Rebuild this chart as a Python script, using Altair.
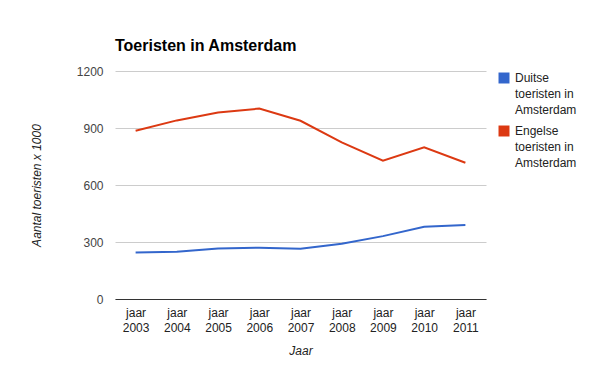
import altair as alt
import pandas as pd

years = ["2003", "2004", "2005", "2006", "2007", "2008", "2009", "2010", "2011"]
series_names = ["Duitse toeristen in Amsterdam", "Engelse toeristen in Amsterdam"]
duitse = [245, 249, 266, 270, 265, 291, 331, 380, 389]
engelse = [886, 940, 982, 1002, 938, 824, 728, 798, 717]
colors = ["#3366cc", "#dc3912"]
y_ticks = [0, 300, 600, 900, 1200]

rows = []
for name, vals in zip(series_names, [duitse, engelse]):
    for y, v in zip(years, vals):
        rows.append({"jaar": y, "serie": name, "waarde": v})
df = pd.DataFrame(rows)

FONT = "Liberation Sans"

x_enc = alt.X("jaar:N", sort=years,
              scale=alt.Scale(paddingInner=0, paddingOuter=0),
              axis=alt.Axis(title="Jaar", labelAngle=0,
                            labelExpr="['jaar', datum.label]",
                            labelLineHeight=15, labelPadding=8,
                            labelFontSize=12, labelColor="#222",
                            ticks=False, domainColor="#333",
                            titleFontStyle="italic", titleFontWeight="normal",
                            titleFontSize=12, titleColor="#222",
                            titleY=51, titleBaseline="middle"))
y_enc = alt.Y("waarde:Q",
              scale=alt.Scale(domain=[0, 1200], nice=False),
              axis=alt.Axis(title="Aantal toeristen x 1000", values=y_ticks,
                            format="d", labelLineHeight=14,
                            labelFontSize=12, labelColor="#444", labelPadding=12,
                            ticks=False, domain=False, gridColor="#ccc",
                            titleFontStyle="italic", titleFontWeight="normal",
                            titleFontSize=12, titleColor="#222",
                            titleX=-79, titleY=114, titleAngle=270,
                            titleAlign="center", titleBaseline="middle"))

chart = alt.Chart(df).mark_line(strokeWidth=2).encode(
    x=x_enc, y=y_enc,
    color=alt.Color("serie:N",
                    scale=alt.Scale(domain=series_names, range=colors),
                    legend=alt.Legend(title=None, orient="none",
                                      legendX=383, legendY=1,
                                      symbolType="square", symbolSize=30,
                                      symbolStrokeWidth=5.5,
                                      labelFontSize=12, labelColor="#222",
                                      labelOffset=5,
                                      labelExpr="split(replace(datum.label, ' toeristen in ', '|toeristen in|'), '|')",
                                      rowPadding=1)),
).properties(
    width=371, height=228,
    title=alt.TitleParams("Toeristen in Amsterdam", anchor="start", frame="group",
                          fontSize=16, fontWeight="bold", color="#000",
                          baseline="alphabetic", offset=14, dy=16),
    autosize=alt.AutoSizeParams(type="none"),
    padding={"left": 107, "top": 63, "right": 100, "bottom": 60},
).configure(font=FONT, style={"guide-label": {"lineHeight": 16}}).configure_view(stroke=None)

chart.save("out.html", embed_options={"renderer": "svg", "actions": False})
